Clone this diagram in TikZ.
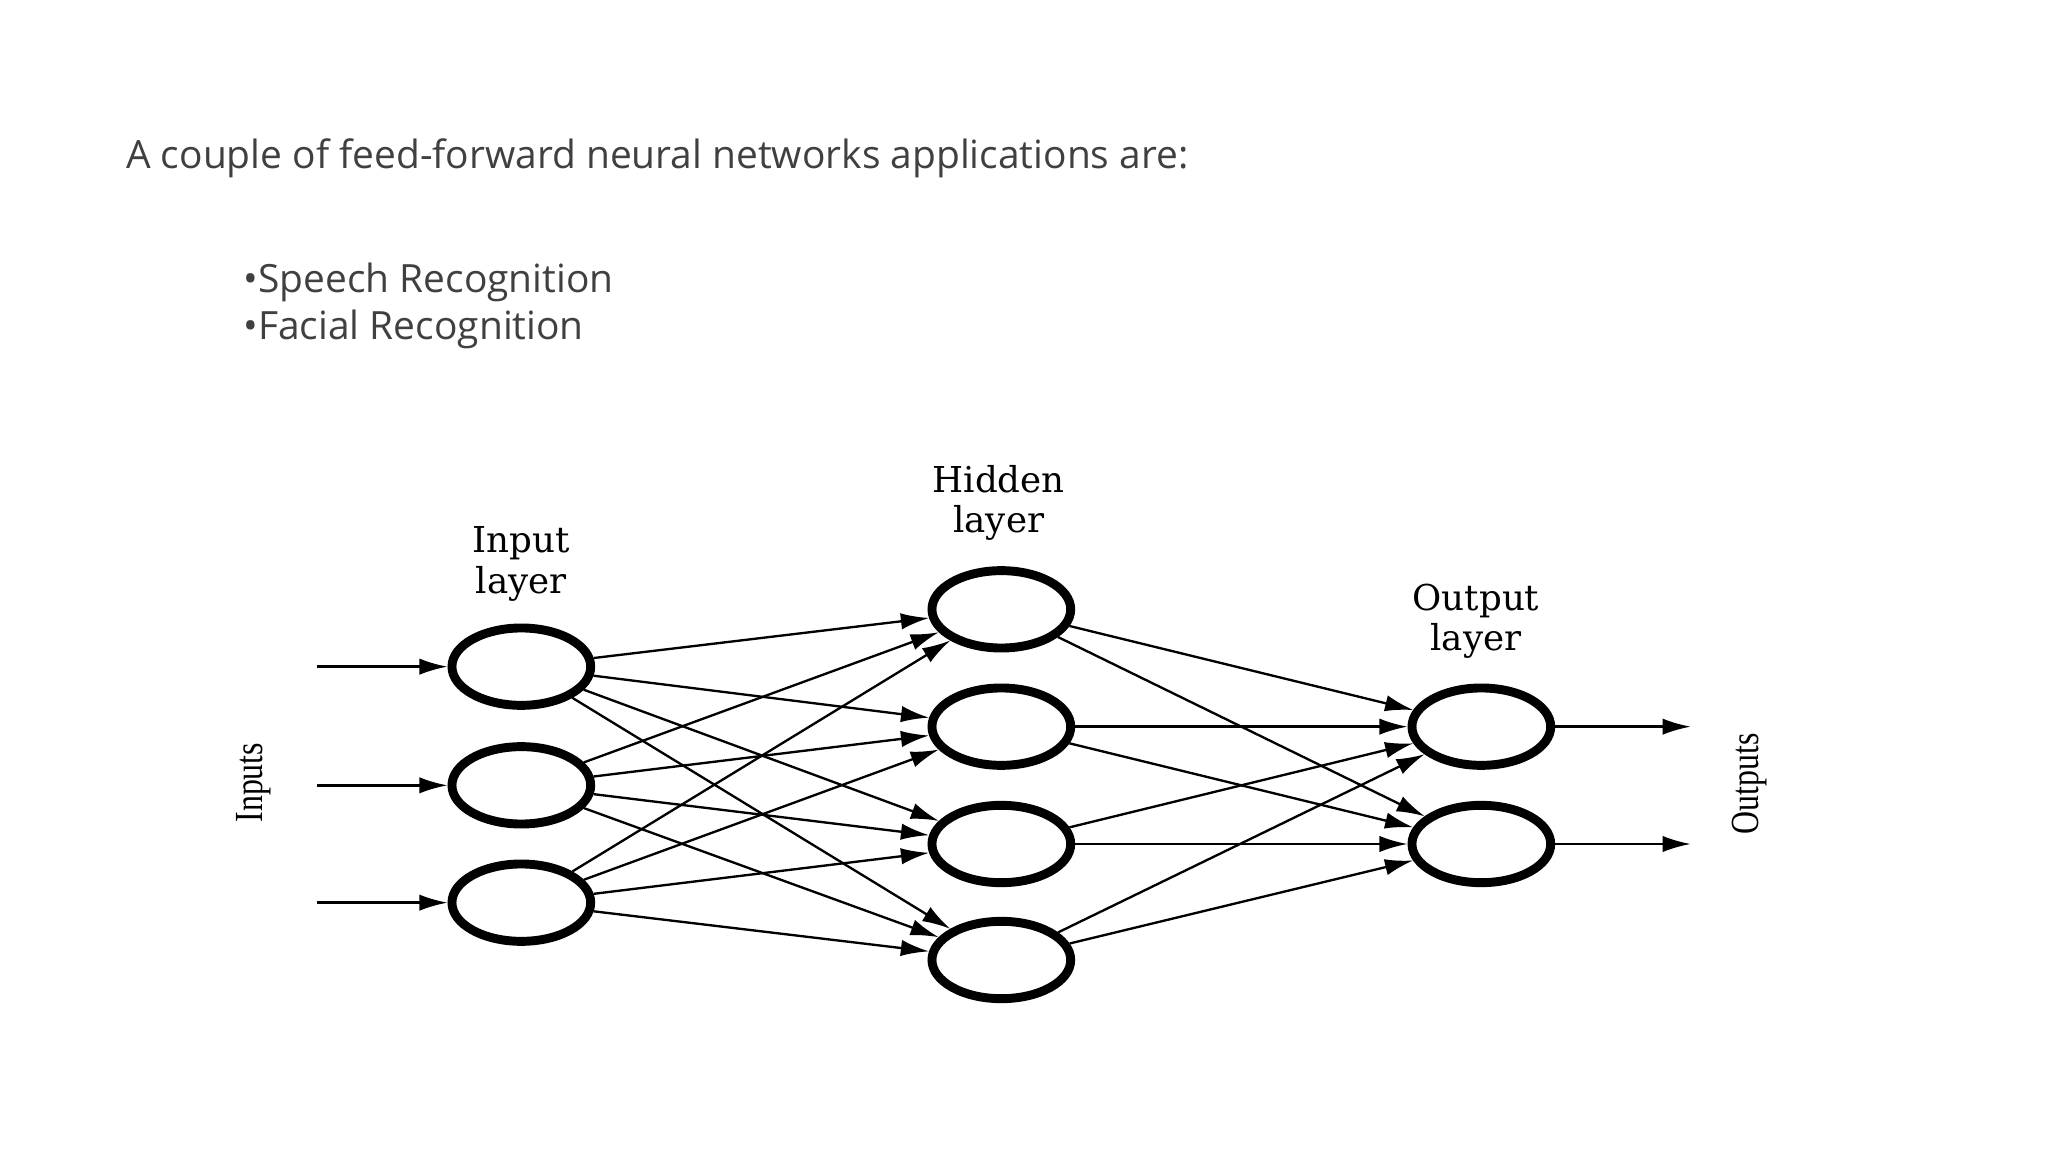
\documentclass[tikz,border=0pt]{standalone}
\usepackage{fontspec}
\setmainfont{Open Sans}
\newfontfamily\labfont{DejaVu Serif}
\newfontfamily\rotfont{Liberation Serif}
\usetikzlibrary{shapes.geometric,arrows.meta}
\begin{document}
\begin{tikzpicture}[x=0.01cm,y=-0.01cm,
  neuron/.style={ellipse,draw,line width=1.9pt,minimum width=1.04cm,minimum height=0.58cm,inner sep=0pt},
  conn/.style={-{Latex[length=6pt,width=3.5pt]},line width=0.5pt},
  lab/.style={font=\labfont\fontsize{7.6}{8.6}\selectfont,align=center},
  rlab/.style={font=\rotfont\fontsize{8.5}{8.5}\selectfont,rotate=90,xscale=0.8},
  txt/.style={font=\fontsize{8.3}{10.5}\selectfont,text=black!75,anchor=west,inner sep=0pt}]
\useasboundingbox (0,0) rectangle (1536,864);
\node[txt] (t) at (94,119) {A couple of feed-forward neural networks applications are:};
\node[txt] (b1) at (182,212) {•Speech Recognition};
\node[txt] (b2) at (182,247) {•Facial Recognition};
% neurons
\foreach \i/\y in {1/500,2/589,3/677} \node[neuron] (i\i) at (391,\y) {};
\foreach \i/\y in {1/457,2/545,3/633,4/720} \node[neuron] (h\i) at (751,\y) {};
\foreach \i/\y in {1/545,2/633} \node[neuron] (o\i) at (1111,\y) {};
% labels
\node[lab] (li) at (391,423) {Input\\layer};
\node[lab] (lh) at (749,377) {Hidden\\layer};
\node[lab] (lo) at (1107,466) {Output\\layer};
\node[rlab] (lin) at (190,587) {Inputs};
\node[rlab] (lout) at (1312,588) {Outputs};
% input and output arrows
\foreach \i/\y in {1/500,2/589,3/677} {
  \coordinate (s\i) at (238,\y);
  \draw[conn] (s\i) -- (i\i);}
\foreach \i/\y in {1/545,2/633} {
  \coordinate (e\i) at (1268,\y);
  \draw[conn] (o\i) -- (e\i);}
% connections
\foreach \a in {1,2,3} \foreach \b in {1,2,3,4} \draw[conn] (i\a) -- (h\b);
\foreach \a in {1,2,3,4} \foreach \b in {1,2} \draw[conn] (h\a) -- (o\b);
\end{tikzpicture}
\end{document}
